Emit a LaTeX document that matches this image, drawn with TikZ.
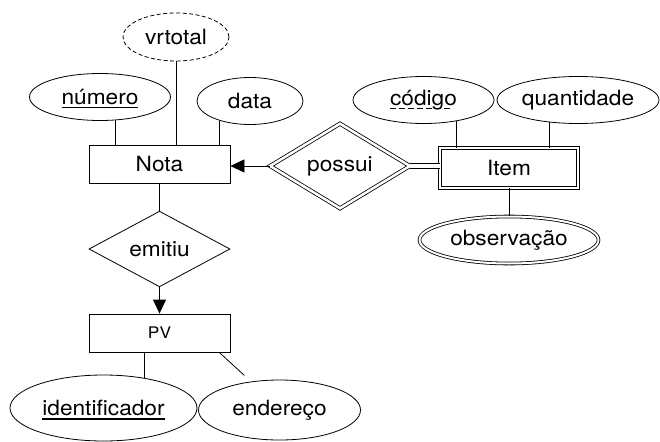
\documentclass[tikz,border=0pt]{standalone}
\usepackage{fontspec}
\setmainfont{TeX Gyre Heros}[FakeStretch=1.08]
\usetikzlibrary{positioning, shapes.geometric, arrows.meta}

\newcommand{\keyline}[1]{\setbox0\hbox{#1}%
  \rlap{\raisebox{-4pt}[0pt][0pt]{\vrule width\wd0 height 1.1pt depth 0pt}}\box0}
\newcommand{\partkeyline}[1]{\setbox0\hbox{#1}%
  \rlap{\raisebox{-4pt}[0pt][0pt]{\hbox to\wd0{\leaders\hbox to 9pt{\vrule width 6pt height 1.1pt depth 0pt\hfil}\hfill}}}\box0}

\begin{document}
\begin{tikzpicture}[x=1pt, y=-1pt, line width=0.8pt, on grid,
    font=\fontsize{21}{25}\selectfont,
    entity/.style = {draw, rectangle, inner sep=0pt, minimum width=141pt, minimum height=38pt},
    weakentity/.style = {entity, double, double distance=2pt, minimum width=138pt, minimum height=40pt},
    attr/.style = {draw, ellipse, inner sep=0pt, minimum height=47pt},
    multiattr/.style = {attr, double, double distance=2pt},
    derived/.style = {attr, dash pattern=on 4pt off 2.5pt},
    rel/.style = {draw, diamond, inner sep=0pt, minimum width=141pt, minimum height=68pt},
    weakrel/.style = {rel, double, double distance=2.5pt, minimum width=140pt, minimum height=66pt},
    tip/.style = {-{Triangle[length=14pt, width=13pt]}}]
    \useasboundingbox (0,0) rectangle (660,441);

    \node[entity] (nota) at (159.5,164) {Nota};
    \node[derived, minimum width=106pt, minimum height=48pt, above right=127pt and 16.5pt of nota] (vrtotal) {vrtotal};
    \node[attr, minimum width=141pt, above left=67pt and 59.5pt of nota] (numero) {\keyline{número}};
    \node[attr, minimum width=106pt, above right=63pt and 90.5pt of nota] (data) {data};

    \node[weakrel, below right=2pt and 180.5pt of nota] (possui) {possui};
    \node[weakentity, below right=2pt and 169pt of possui] (item) {Item};
    \node[attr, minimum width=141pt, above left=68pt and 85.5pt of item] (codigo) {\partkeyline{código}};
    \node[attr, minimum width=162pt, above right=68pt and 69pt of item] (quantidade) {quantidade};
    \node[multiattr, minimum width=179pt, below=72pt of item] (observacao) {observação};

    \node[rel, below=85pt of nota] (emitiu) {emitiu};
    \node[entity, font=\fontsize{16}{19}\selectfont, below=84pt of emitiu] (pv) {PV};
    \node[attr, minimum width=187pt, minimum height=66pt, below left=75pt and 56pt of pv] (identificador) {\keyline{identificador}};
    \node[attr, minimum width=162pt, minimum height=60pt, below right=77pt and 120pt of pv] (endereco) {endereço};

    \draw (vrtotal.south) -- (vrtotal.south |- nota.north);
    \draw (numero.-57) -- (numero.-57 |- nota.north);
    \draw (data.-147) -- (data.-147 |- nota.north);
    \draw[tip] (possui.west) -- (possui.west -| nota.east);
    \draw[double, double distance=4.5pt] (possui.east) -- (possui.east -| item.west);
    \draw (codigo.-33) -- (codigo.-33 |- item.north);
    \draw (quantidade.-142) -- (quantidade.-142 |- item.north);
    \draw (item.south) -- (observacao.north);
    \draw (nota.south) -- (emitiu.north);
    \draw[tip] (emitiu.south) -- (pv.north);
    \draw (identificador.36) -- (identificador.36 |- pv.south);
    \draw[shorten >=9pt] (pv.-18) -- (endereco.135);
\end{tikzpicture}
\end{document}
